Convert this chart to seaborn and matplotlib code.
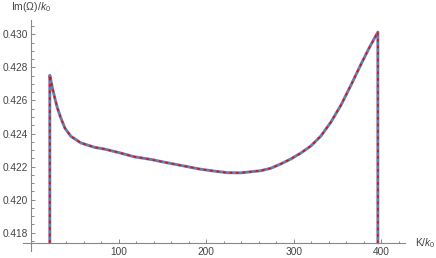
import matplotlib
matplotlib.use("Agg")
import matplotlib.pyplot as plt
import seaborn as sns
import pandas as pd

# Data
K = [21.4, 21.4, 24.4, 27.1, 30.1, 34.0, 38.6, 45.5, 56.9, 72.2, 83.6, 100, 117.2,
     137, 155.4, 175, 193.6, 210, 224.2, 239.4, 262.3, 273.8, 285.2, 296.7,
     308.1, 319.6, 331.0, 342.5, 354.0, 365.4, 376.9, 386.0, 396.0, 396.0]
ImOmega = [0.41738, 0.42752, 0.42675, 0.42615, 0.42554, 0.42494, 0.42433, 0.42383,
           0.42343, 0.42317, 0.42306, 0.42285, 0.42260, 0.42243, 0.42223, 0.42203,
           0.42184, 0.42172, 0.42163, 0.42162, 0.42175, 0.42190, 0.42216, 0.42246,
           0.42282, 0.42325, 0.42385, 0.42470, 0.42573, 0.42694, 0.42821, 0.42917,
           0.43014, 0.41738]

x_major = [100, 200, 300, 400]
x_minor = [20, 40, 60, 80, 120, 140, 160, 180, 220, 240, 260, 280, 320, 340, 360, 380, 420]
y_major = [0.418, 0.420, 0.422, 0.424, 0.426, 0.428, 0.430]
y_major_labels = ["0.418", "0.420", "0.422", "0.424", "0.426", "0.428", "0.430"]
y_minor = [0.4175, 0.4185, 0.4190, 0.4195, 0.4205, 0.4210, 0.4215, 0.4225, 0.4230,
           0.4235, 0.4245, 0.4250, 0.4255, 0.4265, 0.4270, 0.4275, 0.4285, 0.4290,
           0.4295, 0.4305]

df = pd.DataFrame({"K": K, "Im": ImOmega})

sns.set_style("white")
plt.rcParams["font.family"] = ["Liberation Sans", "DejaVu Sans"]
plt.rcParams["mathtext.fontset"] = "custom"
plt.rcParams["mathtext.rm"] = "Liberation Sans"
plt.rcParams["mathtext.it"] = "Liberation Sans:italic"

fig = plt.figure(figsize=(4.36, 2.58), dpi=100)
ax = fig.add_axes([23 / 436, 7 / 258, (405 - 23) / 436, (251 - 20) / 258])

sns.lineplot(data=df, x="K", y="Im", sort=False, estimator=None, ax=ax,
             color="#5E81B5", linewidth=2.1)
sns.lineplot(data=df, x="K", y="Im", sort=False, estimator=None, ax=ax,
             color="#FF0000", linewidth=1.2)
ax.lines[-1].set_dashes((1.7, 2.2))

ax.set_xlim(-9.2, 427)
ax.set_ylim(0.41689, 0.43087)

for s in ["top", "right"]:
    ax.spines[s].set_visible(False)
ax.spines["left"].set_position(("data", 0))
ax.spines["bottom"].set_position(("data", 0.41738))
for s in ["left", "bottom"]:
    ax.spines[s].set_color("#888888")
    ax.spines[s].set_linewidth(0.8)

ax.set_xticks(x_major)
ax.set_xticklabels([str(v) for v in x_major])
ax.set_xticks(x_minor, minor=True)
ax.set_yticks(y_major)
ax.set_yticklabels(y_major_labels)
ax.set_yticks(y_minor, minor=True)

ax.tick_params(which="both", direction="in", color="#888888", width=0.7,
               bottom=True, left=True, top=False, right=False,
               labelsize=7.3, labelcolor="#444444")
ax.tick_params(which="major", length=3.2)
ax.tick_params(which="minor", length=1.8)
ax.tick_params(axis="x", which="major", pad=3)
ax.tick_params(axis="y", which="major", pad=2)

ax.set_xlabel("")
ax.set_ylabel("")
fig.text(415 / 436, 1 - 243 / 258, r"K/$k_0$", ha="left", va="center",
         fontsize=7.5, color="#444444")
fig.text(31 / 436, 1 - 7 / 258, r"Im($\Omega$)/$k_0$", ha="center", va="center",
         fontsize=7.5, color="#444444")

fig.savefig("out.png", dpi=100)
